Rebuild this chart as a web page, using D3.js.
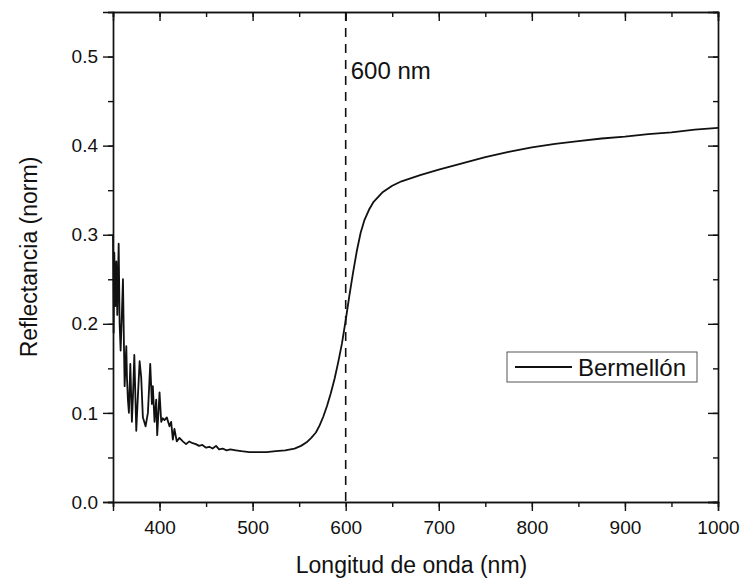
<!DOCTYPE html>
<html>
<head>
<meta charset="utf-8">
<script src="https://cdn.jsdelivr.net/npm/d3@7"></script>
<style>
  body { margin: 0; background: #fff; }
  svg text { font-family: "Liberation Sans", Arial, sans-serif; fill: #111; }
</style>
</head>
<body>
<svg id="plot" width="743" height="578"></svg>
<script>
// wavelength (nm) and normalised reflectance
const wavelength = [350, 350.7, 351.4, 352.5, 353.6, 354.6, 356.1, 357.1, 358.2, 359.5, 360.7, 361.8, 362.5,
  364.3, 365, 366, 367.1, 368.6, 370.3, 371.5, 372.9, 375, 376.8, 378.6, 380.3, 382.1, 385, 387.5, 390,
  391.8, 392.8, 394.6, 396.4, 397.5, 400, 401.8, 403.5, 405.3, 407.8, 410.7, 412.5, 414.3, 416, 418.5,
  421.4, 425, 428.5, 432, 435.5, 439, 442.5, 446, 450, 453.5, 457, 460.7, 464, 467.8, 472, 476, 482,
  488, 496.4, 505, 515, 525, 535, 545, 552, 558, 563, 568, 572, 576, 580, 584, 588, 592, 596, 600,
  604, 608, 612, 616, 620, 625, 630, 640, 650, 660, 680, 700, 725, 750, 775, 800, 825, 850, 875, 900,
  925, 950, 975, 1000];
const reflectance = [0.30, 0.19, 0.28, 0.22, 0.27, 0.21, 0.29, 0.20, 0.17, 0.21, 0.25, 0.174, 0.13,
  0.175, 0.14, 0.115, 0.10, 0.155, 0.09, 0.12, 0.165, 0.08, 0.12, 0.158, 0.14, 0.095, 0.085, 0.10, 0.155,
  0.11, 0.13, 0.09, 0.115, 0.075, 0.123, 0.09, 0.094, 0.092, 0.095, 0.085, 0.09, 0.07, 0.082, 0.068,
  0.072, 0.068, 0.065, 0.068, 0.066, 0.065, 0.063, 0.064, 0.061, 0.062, 0.060, 0.063, 0.059, 0.060, 0.058, 0.059, 0.058,
  0.057, 0.056, 0.056, 0.056, 0.057, 0.058, 0.060, 0.063, 0.067, 0.072, 0.078, 0.086, 0.096, 0.108, 0.122,
  0.138, 0.157, 0.178, 0.204, 0.232, 0.258, 0.282, 0.302, 0.316, 0.328, 0.337, 0.348, 0.355, 0.360, 0.367,
  0.373, 0.380, 0.387, 0.393, 0.398, 0.402, 0.405, 0.408, 0.410, 0.413, 0.415, 0.418, 0.420];
const seriesName = "Bermellón";
const markerWavelength = 600;
const markerLabel = "600 nm";
const xTicks = [400, 500, 600, 700, 800, 900, 1000];
const yTicks = [0.0, 0.1, 0.2, 0.3, 0.4, 0.5];

const svg = d3.select("#plot");
const margin = {top: 12, right: 25, bottom: 76, left: 113};
const width = +svg.attr("width");
const height = +svg.attr("height");
const plotW = width - margin.left - margin.right;
const plotH = height - margin.top - margin.bottom;

const x = d3.scaleLinear().domain([350, 1000]).range([margin.left, margin.left + plotW]);
const y = d3.scaleLinear().domain([0, 0.55]).range([margin.top + plotH, margin.top]);

const xMinor = d3.range(350, 1001, 50);
const yMinor = d3.range(0, 0.551, 0.05);

function styleAxis(g) {
    g.select(".domain").attr("stroke", "#111").attr("stroke-width", 1.4);
    g.selectAll(".tick line").attr("stroke", "#111").attr("stroke-width", 1.4);
    g.selectAll(".tick text").attr("font-size", 19).attr("fill", "#111")
        .attr("font-family", "Liberation Sans, Arial, sans-serif");
}

// bottom
svg.append("g").attr("transform", `translate(0,${margin.top + plotH})`)
    .call(d3.axisBottom(x).tickValues(xMinor).tickSize(5).tickFormat(""))
    .call(styleAxis);
svg.append("g").attr("transform", `translate(0,${margin.top + plotH})`)
    .call(d3.axisBottom(x).tickValues(xTicks).tickSize(9).tickPadding(10).tickFormat(d3.format("d")))
    .call(styleAxis);
// top (ticks inward)
svg.append("g").attr("transform", `translate(0,${margin.top})`)
    .call(d3.axisBottom(x).tickValues(xMinor).tickSize(5).tickFormat(""))
    .call(styleAxis);
svg.append("g").attr("transform", `translate(0,${margin.top})`)
    .call(d3.axisBottom(x).tickValues(xTicks).tickSize(9).tickFormat(""))
    .call(styleAxis);
// left
svg.append("g").attr("transform", `translate(${margin.left},0)`)
    .call(d3.axisLeft(y).tickValues(yMinor).tickSize(5).tickFormat(""))
    .call(styleAxis);
svg.append("g").attr("transform", `translate(${margin.left},0)`)
    .call(d3.axisLeft(y).tickValues(yTicks).tickSize(10).tickPadding(5).tickFormat(d3.format(".1f")))
    .call(styleAxis);
// right (ticks inward)
svg.append("g").attr("transform", `translate(${margin.left + plotW},0)`)
    .call(d3.axisLeft(y).tickValues(yMinor).tickSize(5).tickFormat(""))
    .call(styleAxis);
svg.append("g").attr("transform", `translate(${margin.left + plotW},0)`)
    .call(d3.axisLeft(y).tickValues(yTicks).tickSize(10).tickFormat(""))
    .call(styleAxis);

// dashed marker at 600 nm
svg.append("line")
    .attr("x1", x(markerWavelength)).attr("x2", x(markerWavelength))
    .attr("y1", margin.top).attr("y2", margin.top + plotH)
    .attr("stroke", "#111").attr("stroke-width", 1.6)
    .attr("stroke-dasharray", "9,7");

svg.append("text")
    .attr("x", x(markerWavelength) + 5)
    .attr("y", 79)
    .attr("font-size", 24)
    .text(markerLabel);

// spectrum
const points = wavelength.map((w, i) => [w, reflectance[i]]);
const line = d3.line().x(d => x(d[0])).y(d => y(d[1]));
svg.append("path")
    .datum(points)
    .attr("d", line)
    .attr("fill", "none")
    .attr("stroke", "#111")
    .attr("stroke-width", 1.8)
    .attr("stroke-linejoin", "round");

// legend
const legend = svg.append("g");
legend.append("rect")
    .attr("x", 507).attr("y", 352).attr("width", 190).attr("height", 30)
    .attr("fill", "#fff").attr("stroke", "#555").attr("stroke-width", 1);
legend.append("line")
    .attr("x1", 515).attr("x2", 572).attr("y1", 367).attr("y2", 367)
    .attr("stroke", "#111").attr("stroke-width", 1.8);
legend.append("text")
    .attr("x", 578).attr("y", 376)
    .attr("font-size", 24)
    .text(seriesName);

// axis titles
svg.append("text")
    .attr("x", margin.left + plotW / 2 - 4)
    .attr("y", 573)
    .attr("text-anchor", "middle")
    .attr("font-size", 23)
    .text("Longitud de onda (nm)");

svg.append("text")
    .attr("transform", `translate(37,${margin.top + plotH / 2}) rotate(-90)`)
    .attr("text-anchor", "middle")
    .attr("font-size", 23)
    .text("Reflectancia (norm)");
</script>
</body>
</html>
